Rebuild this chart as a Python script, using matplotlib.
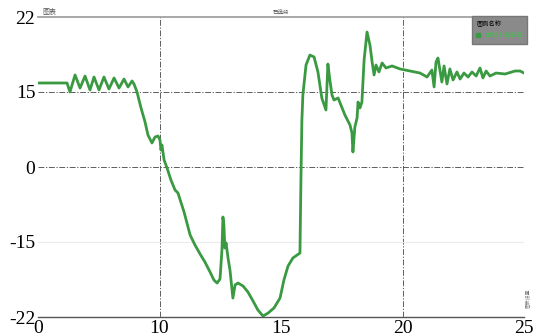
import numpy as np
import matplotlib
matplotlib.use("Agg")
import matplotlib.pyplot as plt
from matplotlib.ticker import NullLocator
from matplotlib.lines import Line2D

# tick labels (the axes are spaced evenly between them)
x_ticks = [0, 10, 15, 20, 25]
y_ticks = [-22, -15, 0, 15, 22]

# curve
t = [0.0, 2.39, 2.63, 3.05, 3.46, 3.87, 4.28, 4.61, 5.02, 5.43, 5.84, 6.26, 6.67,
     7.08, 7.41, 7.74, 7.90, 8.15, 8.48, 8.81, 9.05, 9.38, 9.63, 9.88, 10.02,
     10.06, 10.10, 10.19, 10.31, 10.47, 10.64, 10.76, 11.01, 11.26, 11.46, 11.67,
     11.87, 12.08, 12.24, 12.37, 12.49, 12.57, 12.61, 12.65, 12.69, 12.74, 12.82,
     12.90, 13.02, 13.11, 13.23, 13.44, 13.64, 13.85, 14.05, 14.26, 14.47, 14.71,
     14.96, 15.12, 15.29, 15.49, 15.78, 15.82, 15.86, 15.90, 16.03, 16.19, 16.36,
     16.52, 16.68, 16.85, 16.93, 17.01, 17.10, 17.18, 17.35, 17.63, 17.84, 17.92,
     17.96, 18.04, 18.13, 18.17, 18.25, 18.33, 18.42, 18.54, 18.66, 18.75, 18.83,
     18.91, 19.03, 19.16, 19.32, 19.57, 19.90, 20.31, 20.72, 21.01, 21.21, 21.30,
     21.38, 21.46, 21.62, 21.71, 21.83, 21.95, 22.08, 22.24, 22.37, 22.53, 22.70,
     22.86, 23.03, 23.19, 23.31, 23.44, 23.60, 23.85, 24.22, 24.63, 24.84, 25.0]
val = [15.84, 15.84, 15.0, 16.59, 15.37, 16.49, 15.19, 16.40, 15.19, 16.40, 15.28,
       16.31, 15.37, 16.21, 15.47, 16.03, 15.75, 15.0, 11.8, 9.0, 6.4, 4.8, 6.0,
       6.2, 5.4, 3.4, 4.4, 1.4, -0.2, -2.6, -4.6, -5.2, -9.0, -13.6, -15.28,
       -16.12, -16.87, -17.80, -18.55, -18.83, -18.45, -15.75, -10.0, -11.6,
       -15.56, -15.09, -16.49, -17.61, -20.23, -19.01, -18.83, -19.11, -19.67,
       -20.51, -21.35, -21.91, -21.63, -21.16, -20.23, -18.55, -17.24, -16.49,
       -16.03, -2.6, 9.4, 14.4, 17.52, 18.45, 18.27, 16.87, 13.8, 11.4, 17.61,
       16.12, 14.4, 13.4, 13.8, 10.4, 8.4, 6.8, 3.0, 8.0, 9.8, 13.0, 11.8, 13.0,
       17.99, 20.6, 19.39, 17.8, 16.59, 17.52, 16.87, 17.71, 17.24, 17.43, 17.15,
       16.96, 16.77, 16.40, 17.05, 15.47, 17.8, 18.17, 15.93, 17.43, 15.75, 17.15,
       16.12, 16.87, 16.21, 16.77, 16.40, 16.87, 16.49, 17.24, 16.31, 16.96,
       16.49, 16.77, 16.68, 16.96, 16.96, 16.77]

pos = [0, 1, 2, 3, 4]
green = '#3a9a42'


def fx(v):
    return np.interp(v, x_ticks, pos)


def fx_inv(u):
    return np.interp(u, pos, x_ticks)


def fy(v):
    return np.interp(v, y_ticks, pos)


def fy_inv(u):
    return np.interp(u, pos, y_ticks)


fig = plt.figure(figsize=(5.34, 3.36), dpi=100)
ax = fig.add_axes([38 / 534, 19 / 336, 486 / 534, 300 / 336])
ax.set_xscale('function', functions=(fx, fx_inv))
ax.set_yscale('function', functions=(fy, fy_inv))
ax.set_xlim(0, 25)
ax.set_ylim(-22, 22)

dashdot = (0, (7, 2, 1.5, 2))
for gx in [10, 20]:
    ax.axvline(gx, color='#444444', lw=0.6, ls=dashdot, zorder=1)
for gy in [15, 0]:
    ax.axhline(gy, color='#444444', lw=0.6, ls=dashdot, zorder=1)
ax.axhline(-15, color='#ececec', lw=0.8, zorder=1)

ax.plot(t, val, color=green, lw=2.0, zorder=3, solid_joinstyle='round')

ax.set_xticks(x_ticks)
ax.set_yticks(y_ticks)
ax.xaxis.set_minor_locator(NullLocator())
ax.yaxis.set_minor_locator(NullLocator())
ax.set_xticklabels([str(v) for v in x_ticks])
ax.set_yticklabels([str(v) for v in y_ticks])
ax.tick_params(length=0, labelsize=14, pad=2)
for lab in ax.get_xticklabels() + ax.get_yticklabels():
    lab.set_family('Liberation Serif')

for s in ['left', 'right']:
    ax.spines[s].set_visible(False)
ax.spines['top'].set_color('#999999')
ax.spines['top'].set_linewidth(1.2)
ax.spines['bottom'].set_color('#555555')
ax.spines['bottom'].set_linewidth(1.0)

cjk = ['Noto Sans CJK SC', 'DejaVu Sans']
ax.set_title('已选段', fontsize=4, family=cjk, color='#555555', pad=2)
fig.text(42 / 534, 1 - 12 / 336, '图表', fontsize=5, family=cjk,
         color='#555555', va='center')
fig.text(527 / 534, 1 - 298 / 336, '图表设置', fontsize=3.5, family=cjk,
         color='#777777', rotation=90, va='center', ha='center')

handle = Line2D([], [], color=green, marker='s', markersize=3, lw=0)
leg = ax.legend([handle], ['曲线 1 当前值'], loc='upper right',
                bbox_to_anchor=(1.012, 1.015), title='图例名称',
                prop={'family': cjk, 'size': 4.5},
                title_fontproperties={'family': cjk, 'size': 4.5},
                frameon=True, fancybox=False, handlelength=0.5, handletextpad=0.8,
                borderpad=0.7, facecolor='#8a8a8a', edgecolor='#777777', framealpha=1)
leg._legend_box.align = 'left'
for txt in leg.get_texts():
    txt.set_color('#44c050')

fig.savefig('out.png', dpi=100)
